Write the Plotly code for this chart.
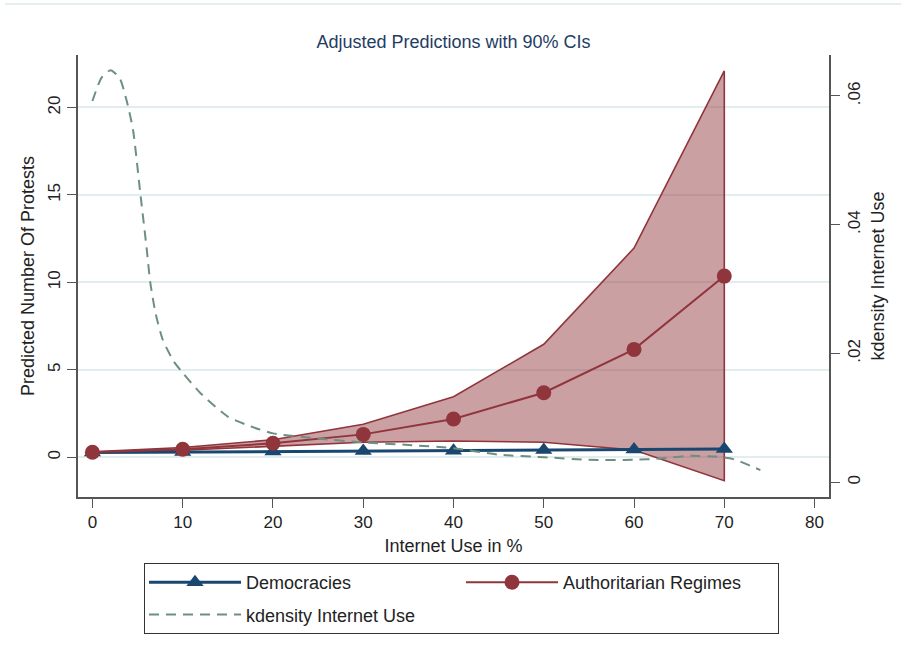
import plotly.graph_objects as go

# Predicted protest counts by internet use (%)
internet_use = [0, 10, 20, 30, 40, 50, 60, 70]
democracies = [0.27, 0.30, 0.33, 0.36, 0.38, 0.41, 0.44, 0.47]
authoritarian = [0.29, 0.46, 0.80, 1.31, 2.19, 3.69, 6.17, 10.36]
auth_ci_upper = [0.31, 0.56, 1.00, 1.89, 3.46, 6.46, 11.96, 22.09]
auth_ci_lower = [0.27, 0.40, 0.63, 0.86, 0.93, 0.86, 0.42, -1.34]

# Kernel density of internet use (right axis)
kd_x = [0, 1, 2, 3, 3.8, 4.5, 5.3, 6.0, 6.4, 7.0, 7.8, 9, 10, 12, 15, 17.5,
        20, 25, 30, 35, 40, 45, 50, 55, 60, 63, 66, 69, 71, 74]
kd_y = [0.0592, 0.0628, 0.0640, 0.0628, 0.0592, 0.0547, 0.0449, 0.0364,
        0.0311, 0.0262, 0.0221, 0.0188, 0.0170, 0.0138, 0.0102, 0.0087,
        0.0076, 0.0068, 0.0062, 0.0058, 0.0053, 0.0043, 0.0039, 0.0035,
        0.0035, 0.0037, 0.0041, 0.0040, 0.0036, 0.0019]

x_ticks = [0, 10, 20, 30, 40, 50, 60, 70, 80]
y_ticks = [0, 5, 10, 15, 20]
y2_ticks = [0, 0.02, 0.04, 0.06]
y2_ticklabels = ["0", ".02", ".04", ".06"]

NAVY = "#1a476f"
MAROON = "#90353b"
TEAL = "#6e8e84"
FONT = "Liberation Sans, Arial, sans-serif"

fig = go.Figure()

# 90% CI band for authoritarian regimes (closed outline)
fig.add_trace(go.Scatter(
    x=internet_use + internet_use[::-1],
    y=auth_ci_upper + auth_ci_lower[::-1],
    fill="toself",
    fillcolor="rgba(144,53,59,0.47)",
    line=dict(color=MAROON, width=1.6),
    mode="lines",
    showlegend=False,
    hoverinfo="skip",
))

fig.add_trace(go.Scatter(
    x=internet_use, y=democracies,
    name="Democracies", legendgroup="dem",
    mode="lines+markers",
    line=dict(color=NAVY, width=3),
    marker=dict(symbol="triangle-up", size=15, color=NAVY),
))

fig.add_trace(go.Scatter(
    x=internet_use, y=authoritarian,
    name="Authoritarian Regimes", legendgroup="auth",
    mode="lines+markers",
    line=dict(color=MAROON, width=2),
    marker=dict(symbol="circle", size=15, color=MAROON),
))

fig.add_trace(go.Scatter(
    x=kd_x, y=kd_y,
    name="kdensity Internet Use", legendgroup="kd",
    mode="lines",
    yaxis="y2",
    line=dict(color=TEAL, width=2, dash="10px,7px", shape="spline", smoothing=0.6),
))

axis_common = dict(
    showline=True, linecolor="#555555", linewidth=1.5,
    ticks="outside", ticklen=9, tickwidth=1.3, tickcolor="#555555",
    zeroline=False,
    tickfont=dict(family=FONT, size=17, color="#222222"),
    title_font=dict(family=FONT, size=18, color="#222222"),
)

fig.update_layout(
    width=901, height=661,
    margin=dict(l=78, r=72, t=55, b=164),
    paper_bgcolor="white", plot_bgcolor="white",
    font=dict(family=FONT, size=17, color="#222222"),
    title=dict(
        text="Adjusted Predictions with 90% CIs",
        x=0.5, xref="paper", xanchor="center",
        y=1 - 42 / 661, yref="container", yanchor="middle",
        font=dict(family=FONT, size=18, color="#1e3c64"),
    ),
    xaxis=dict(
        range=[-1.6, 81.6], tickvals=x_ticks, showgrid=False,
        title=dict(text="Internet Use in %", standoff=8),
        **axis_common,
    ),
    yaxis=dict(
        range=[-2.27, 23], tickvals=y_ticks, tickangle=-90,
        showgrid=True, gridcolor="#e2edf0", gridwidth=1.5,
        title=dict(text="Predicted Number Of Protests", standoff=6),
        **axis_common,
    ),
    yaxis2=dict(
        overlaying="y", side="right",
        range=[-0.00228, 0.06635], tickvals=y2_ticks, ticktext=y2_ticklabels,
        tickangle=-90, showgrid=False,
        title=dict(text="kdensity Internet Use", standoff=8),
        **axis_common,
    ),
    legend=dict(
        orientation="h",
        x=(144 - 78) / 751, xanchor="left",
        y=(497 - 563) / 442, yanchor="top",
        bordercolor="#333333", borderwidth=1,
        bgcolor="white",
        font=dict(family=FONT, size=18, color="#222222"),
        itemwidth=92,
        entrywidth=210,
        traceorder="grouped",
        tracegroupgap=6,
    ),
    shapes=[dict(
        type="line", xref="paper", yref="paper",
        x0=(5 - 78) / 751, x1=(901 - 78) / 751,
        y0=(497 - 4) / 442, y1=(497 - 4) / 442,
        line=dict(color="#dce8ea", width=1.5),
    )],
)

fig.write_html("out.html")
